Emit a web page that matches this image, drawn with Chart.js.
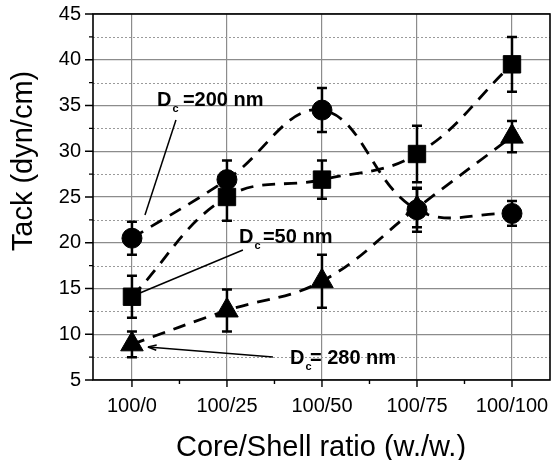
<!DOCTYPE html>
<html>
<head>
<meta charset="utf-8">
<script src="https://cdn.jsdelivr.net/npm/chart.js@4/dist/chart.umd.min.js"></script>
<style>
html, body { margin: 0; padding: 0; background: #fff; }
#wrap { width: 554px; height: 460px; }
</style>
</head>
<body>
<div id="wrap"><canvas id="tackChart"></canvas></div>
<script>
const ratios = ["100/0", "100/25", "100/50", "100/75", "100/100"];
const tack200 = [20.5, 26.9, 34.5, 23.6, 23.2];
const err200 = [1.8, 2.1, 2.4, 2.4, 1.35];
const tack50 = [14.1, 25.0, 26.9, 29.7, 39.5];
const err50 = [2.3, 2.6, 2.1, 3.1, 3.0];
const tack280 = [8.9, 12.6, 15.8, 23.8, 31.6];
const err280 = [1.4, 2.3, 2.9, 2.1, 1.7];
const yTicks = [5, 10, 15, 20, 25, 30, 35, 40, 45];
const yMinor = [7.5, 12.5, 17.5, 22.5, 27.5, 32.5, 37.5, 42.5];
const xMinor = [0.5, 1.5, 2.5, 3.5];

const FONT = '"Liberation Sans", Arial, sans-serif';

// labels, placed in axis units
const notes = [
    { text: "=200 nm", dx: 26, at: [0.263, 34.95], from: [0.463, 33.42], to: [0.137, 23.03], arrow: false },
    { text: "=50 nm", dx: 24, at: [1.126, 19.97], from: [1.168, 19.21], to: [0.084, 14.51], arrow: false },
    { text: "= 280 nm", dx: 20, at: [1.663, 6.75], from: [1.484, 7.51], to: [0.168, 8.61], arrow: true },
];

const pts = (vals) => vals.map((v, i) => ({ x: i, y: v }));

const series = [
    { vals: tack200, err: err200, style: "circle", radius: 10 },
    { vals: tack50, err: err50, style: "rect", radius: 12.3 },
    { vals: tack280, err: err280, style: "triangle", radius: 13 },
];

const extras = {
    id: "extras",
    beforeDatasetsDraw(chart) {
        const { ctx, chartArea: a, scales: { x, y } } = chart;
        ctx.save();
        ctx.strokeStyle = "#9a9a9a";
        ctx.lineWidth = 1;
        ctx.setLineDash([2, 2]);
        yMinor.forEach((v) => {
            const py = Math.round(y.getPixelForValue(v)) + 0.5;
            ctx.beginPath();
            ctx.moveTo(a.left, py);
            ctx.lineTo(a.right, py);
            ctx.stroke();
        });
        ctx.setLineDash([]);
        // error bars
        ctx.strokeStyle = "#000";
        ctx.lineWidth = 2.5;
        series.forEach((s) => {
            s.vals.forEach((v, i) => {
                const px = x.getPixelForValue(i);
                const top = y.getPixelForValue(v + s.err[i]);
                const bot = y.getPixelForValue(v - s.err[i]);
                ctx.beginPath();
                ctx.moveTo(px, top);
                ctx.lineTo(px, bot);
                ctx.moveTo(px - 5, top);
                ctx.lineTo(px + 5, top);
                ctx.moveTo(px - 5, bot);
                ctx.lineTo(px + 5, bot);
                ctx.stroke();
            });
        });
        ctx.restore();
    },
    afterDraw(chart) {
        const { ctx, chartArea: a, scales: { x, y } } = chart;
        ctx.save();
        // frame
        ctx.strokeStyle = "#000";
        ctx.lineWidth = 1.6;
        ctx.strokeRect(a.left, a.top, a.right - a.left, a.bottom - a.top);
        // tick marks
        ctx.lineWidth = 1.4;
        ctx.beginPath();
        yTicks.forEach((v) => {
            const py = y.getPixelForValue(v);
            ctx.moveTo(a.left - 8, py);
            ctx.lineTo(a.left, py);
        });
        yMinor.forEach((v) => {
            const py = y.getPixelForValue(v);
            ctx.moveTo(a.left - 4, py);
            ctx.lineTo(a.left, py);
        });
        ratios.forEach((r, i) => {
            const px = x.getPixelForValue(i);
            ctx.moveTo(px, a.bottom);
            ctx.lineTo(px, a.bottom + 7);
        });
        xMinor.forEach((v) => {
            const px = x.getPixelForValue(v);
            ctx.moveTo(px, a.bottom);
            ctx.lineTo(px, a.bottom + 4);
        });
        ctx.stroke();

        // notes
        notes.forEach((n) => {
            const fx = x.getPixelForValue(n.from[0]);
            const fy = y.getPixelForValue(n.from[1]);
            const tx = x.getPixelForValue(n.to[0]);
            const ty = y.getPixelForValue(n.to[1]);
            ctx.lineWidth = 1.5;
            ctx.beginPath();
            ctx.moveTo(fx, fy);
            ctx.lineTo(tx, ty);
            ctx.stroke();
            if (n.arrow) {
                const ang = Math.atan2(ty - fy, tx - fx);
                ctx.beginPath();
                ctx.moveTo(tx, ty);
                ctx.lineTo(tx - 9 * Math.cos(ang - 0.3), ty - 9 * Math.sin(ang - 0.3));
                ctx.moveTo(tx, ty);
                ctx.lineTo(tx - 9 * Math.cos(ang + 0.3), ty - 9 * Math.sin(ang + 0.3));
                ctx.stroke();
            }
            const lx = x.getPixelForValue(n.at[0]);
            const ly = y.getPixelForValue(n.at[1]);
            ctx.fillStyle = "#000";
            ctx.textAlign = "left";
            ctx.textBaseline = "alphabetic";
            ctx.font = "bold 20px " + FONT;
            ctx.fillText("D", lx, ly);
            const wd = ctx.measureText("D").width;
            ctx.fillText(n.text, lx + n.dx, ly);
            ctx.font = "bold 11px " + FONT;
            ctx.fillText("c", lx + wd + 1, ly + 6);
        });

        // axis titles
        ctx.fillStyle = "#000";
        ctx.font = "29px " + FONT;
        ctx.textAlign = "center";
        ctx.textBaseline = "alphabetic";
        ctx.fillText("Core/Shell ratio (w./w.)", 321, 456);
        ctx.translate(32, 161);
        ctx.rotate(-Math.PI / 2);
        ctx.fillText("Tack (dyn/cm)", 0, 0);
        ctx.restore();
    },
};

new Chart(document.getElementById("tackChart"), {
    type: "line",
    data: {
        datasets: series.map((s) => ({
            data: pts(s.vals),
            borderColor: "#000",
            backgroundColor: "#000",
            borderWidth: 2.8,
            borderDash: [13, 9],
            tension: 0.4,
            pointStyle: s.style,
            pointRadius: s.radius,
            pointBackgroundColor: "#000",
            pointBorderColor: "#000",
            pointBorderWidth: 1,
        })),
    },
    options: {
        responsive: true,
        maintainAspectRatio: false,
        animation: false,
        layout: { autoPadding: false, padding: { top: 14, right: 4, left: 0, bottom: 0 } },
        plugins: { legend: { display: false }, tooltip: { enabled: false } },
        scales: {
            x: {
                type: "linear",
                min: -0.41,
                max: 4.4,
                afterBuildTicks: (scale) => {
                    scale.ticks = ratios.map((r, i) => ({ value: i }));
                },
                afterFit: (scale) => {
                    scale.height = 80;
                    scale.paddingLeft = 0;
                    scale.paddingRight = 0;
                },
                ticks: {
                    callback: (v) => ratios[v],
                    color: "#000",
                    font: { family: FONT, size: 20 },
                    padding: 14,
                    maxRotation: 0,
                    autoSkip: false,
                },
                grid: { color: "#8c8c8c", lineWidth: 1.2, drawTicks: false },
                border: { display: false },
            },
            y: {
                min: 5,
                max: 45,
                afterBuildTicks: (scale) => {
                    scale.ticks = yTicks.map((v) => ({ value: v }));
                },
                afterFit: (scale) => {
                    scale.width = 93;
                    scale.paddingTop = 0;
                    scale.paddingBottom = 0;
                },
                ticks: {
                    color: "#000",
                    font: { family: FONT, size: 20 },
                    padding: 12,
                },
                grid: { color: "#8c8c8c", lineWidth: 1.2, drawTicks: false },
                border: { display: false },
            },
        },
    },
    plugins: [extras],
});
</script>
</body>
</html>
